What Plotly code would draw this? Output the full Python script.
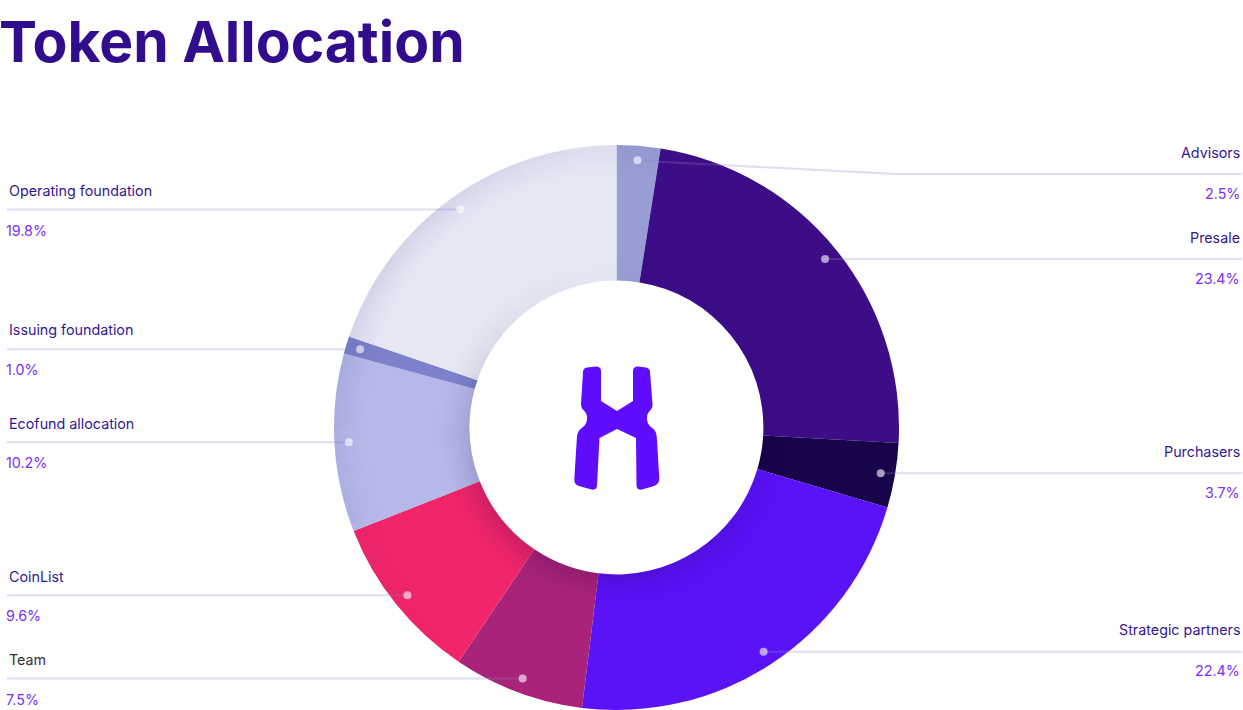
import math
import plotly.graph_objects as go

# ---------------- data ----------------
title = "Token Allocation"
labels = ["Advisors", "Presale", "Purchasers", "Strategic partners", "Team",
          "CoinList", "Ecofund allocation", "Issuing foundation", "Operating foundation"]
values = [2.5, 23.4, 3.7, 22.4, 7.5, 9.6, 10.2, 1.0, 19.8]
colors = ["#989dd3", "#3c0d87", "#17044a", "#5a12f7", "#aa237a",
          "#f0256a", "#b5b8e8", "#7b81ca", "#e6e7f4"]
label_side = ["right", "right", "right", "right", "left", "left", "left", "left", "left"]

# ---------------- layout geometry (pixels) ----------------
W, H = 1243, 710
CX, CY, R = 616.5, 427.5, 282.5
HOLE = 0.52
DOT_R_FRAC = 0.949
NAME_COL = "#34178f"
PCT_COL = "#7b2ff7"
LINE_COL = "rgba(140,128,205,0.28)"
FONT = "Inter"

fig = go.Figure()

fig.add_trace(go.Pie(
    labels=labels, values=values, sort=False, direction="clockwise", rotation=0,
    hole=HOLE, marker=dict(colors=colors, line=dict(width=0)),
    textinfo="none", hoverinfo="label+percent",
    domain=dict(x=[(CX - R) / W, (CX + R) / W], y=[0, 1 - (CY - R) / H]),
    showlegend=False,
))

# invisible pixel axes for overlays
fig.add_trace(go.Scatter(x=[0, W], y=[0, H], mode="markers",
                         marker=dict(opacity=0), hoverinfo="skip", showlegend=False))

shapes = []
annotations = []


def arc_path(rr, t0, t1, n=5):
    pts = []
    for j in range(n):
        t = t0 + (t1 - t0) * j / (n - 1)
        pts.append((CX + math.sin(t) * rr, CY - math.cos(t) * rr))
    return "M" + " L".join(f"{x:.2f},{y:.2f}" for x, y in pts)


# soft inner shadow around the hole, stronger towards the bottom
r_in = R * HOLE
NSEG = 36
NRING = 12
for k in range(NRING):
    rr = r_in + 1.4 + k * 2.6
    base = 0.16 * (1 - k / NRING) ** 1.6
    for s in range(NSEG):
        t0 = 2 * math.pi * s / NSEG
        t1 = 2 * math.pi * (s + 1) / NSEG
        tm = (t0 + t1) / 2
        f = 0.05 + 0.95 * ((1 - math.cos(tm - math.radians(20))) / 2) ** 1.3
        shapes.append(dict(type="path", xref="x", yref="y", layer="above",
                           path=arc_path(rr, t0, t1),
                           line=dict(color=f"rgba(30,0,70,{base * f:.3f})", width=2.7)))

# outer-rim vignette on the upper-left (light slices)
NR2 = 12
for k in range(NR2):
    rr = R - 1.4 - k * 2.6
    base = 0.10 * (1 - k / NR2) ** 1.4
    for s in range(NSEG):
        t0 = 2 * math.pi * s / NSEG
        t1 = 2 * math.pi * (s + 1) / NSEG
        tm = (t0 + t1) / 2
        f = max(0.0, math.cos(tm - math.radians(305))) ** 1.5
        if f < 0.02:
            continue
        shapes.append(dict(type="path", xref="x", yref="y", layer="above",
                           path=arc_path(rr, t0, t1),
                           line=dict(color=f"rgba(60,50,130,{base * f:.3f})", width=2.7)))

total = sum(values)
cum = 0.0
dots = []
for lab, v, side in zip(labels, values, label_side):
    mid = (cum + v / 2) / total * 2 * math.pi
    cum += v
    dx = CX + math.sin(mid) * R * DOT_R_FRAC
    dy = CY - math.cos(mid) * R * DOT_R_FRAC
    pct = f"{v:.1f}%"
    if side == "right":
        ly = max(dy, 174)
        if ly != dy:
            path = f"M{dx},{dy} L{dx + 12},{dy + 1} L{895},{ly} L{1242},{ly}"
        else:
            path = f"M{dx},{dy} L{1242},{ly}"
        xa, xt, xp = "right", 1242, 1242
        dn, dp = -22, 19
    else:
        ly = dy
        path = f"M{7},{ly} L{dx},{dy}"
        xa, xt, xp = "left", 7, 4
        dn, dp = -19, 20.5
    shapes.append(dict(type="path", xref="x", yref="y", layer="above", path=path,
                       line=dict(color=LINE_COL, width=2)))
    dots.append((dx, dy))
    name_color = "#333333" if lab == "Team" else NAME_COL
    annotations.append(dict(x=xt, y=ly + dn, xref="x", yref="y", text=lab,
                            showarrow=False, xanchor=xa, yanchor="middle",
                            font=dict(family=FONT, size=14.3, color=name_color)))
    annotations.append(dict(x=xp, y=ly + dp, xref="x", yref="y", text=pct,
                            showarrow=False, xanchor=xa, yanchor="middle",
                            font=dict(family=FONT, size=14.3, color=PCT_COL)))

for dx, dy in dots:
    shapes.append(dict(type="circle", xref="x", yref="y", layer="above",
                       x0=dx - 4, x1=dx + 4, y0=dy - 4, y1=dy + 4,
                       fillcolor="rgba(255,255,255,0.6)", line=dict(width=0)))

# center logo (H mark)
logo = ("M583,372 Q583,368 587,367.5 L596,366.5 Q601,366.5 601,371 L601,401 L617,411 "
        "L633,401 L633,371 Q633,366.5 638,366.5 L646,367.5 Q650,368.5 650,372 "
        "L652.5,404 Q652.8,408 650,410.5 Q646.5,414 647,419.5 Q647.5,424 651,427 "
        "L654,429.5 Q656.5,432 656.7,436 L659.3,478 Q659.5,484 654,486 L642,489.5 "
        "Q636.5,490.5 636.5,485 L636,438 L617,429 L599.5,438 L597,485 "
        "Q597,490.5 591.5,489.5 L579,486 Q574,484.5 574.3,479 L577,436 "
        "Q577.2,432 580,429.5 L583,427 Q586.5,424 587,419.5 Q587.5,414 584,410.5 "
        "Q581,408 581,404 L583,372 Z")
shapes.append(dict(type="path", xref="x", yref="y", layer="above", path=logo,
                   fillcolor="#5f0dfc", line=dict(width=0)))

annotations.append(dict(x=0, y=41, xref="x", yref="y", xshift=-3, text=title,
                        showarrow=False, xanchor="left", yanchor="middle",
                        font=dict(family=FONT, size=57, color="#310c8c", weight=700)))

fig.update_layout(
    width=W, height=H, margin=dict(l=0, r=0, t=0, b=0, pad=0),
    paper_bgcolor="white", plot_bgcolor="white", showlegend=False,
    xaxis=dict(range=[0, W], visible=False, fixedrange=True),
    yaxis=dict(range=[H, 0], visible=False, fixedrange=True),
    shapes=shapes, annotations=annotations,
)

fig.write_html("out.html", config={"displayModeBar": False},
               post_script="document.body.style.margin='0';document.body.style.overflow='hidden';")
